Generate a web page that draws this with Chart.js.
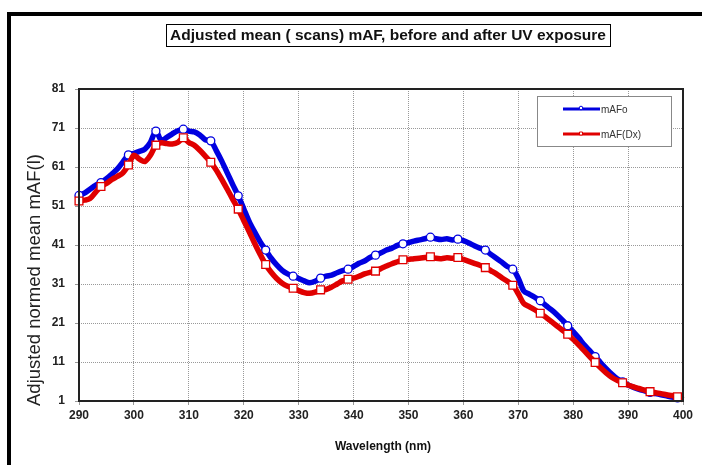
<!DOCTYPE html>
<html>
<head>
<meta charset="utf-8">
<script src="https://cdn.jsdelivr.net/npm/chart.js@4"></script>
<style>
  html, body { margin: 0; padding: 0; background: #fff; }
  canvas { display: block; }
</style>
</head>
<body>
<canvas id="myChart" width="702" height="465"></canvas>
<script>
// wavelengths, 1 nm step
var wavelengths = [290, 291, 292, 293, 294, 295, 296, 297, 298, 299,
  300, 301, 302, 303, 304, 305, 306, 307, 308, 309,
  310, 311, 312, 313, 314, 315, 316, 317, 318, 319,
  320, 321, 322, 323, 324, 325, 326, 327, 328, 329,
  330, 331, 332, 333, 334, 335, 336, 337, 338, 339,
  340, 341, 342, 343, 344, 345, 346, 347, 348, 349,
  350, 351, 352, 353, 354, 355, 356, 357, 358, 359,
  360, 361, 362, 363, 364, 365, 366, 367, 368, 369,
  370, 371, 372, 373, 374, 375, 376, 377, 378, 379,
  380, 381, 382, 383, 384, 385, 386, 387, 388, 389,
  390, 391, 392, 393, 394, 395, 396, 397, 398, 399, 400];

var mAFo = [53.7, 54.3, 55.3, 56.3, 57.0, 58.0, 59.2, 60.5, 62.3, 64.1,
  64.5, 65.0, 65.6, 67.3, 70.2, 67.8, 68.6, 69.5, 70.3, 70.7,
  70.2, 70.0, 69.2, 68.0, 67.7, 65.2, 62.5, 59.5, 56.5, 53.6,
  50.3, 47.0, 44.3, 41.8, 39.7, 37.6, 35.9, 34.5, 33.6, 33.0,
  32.4, 31.8, 31.3, 31.7, 32.5, 33.0, 33.3, 33.9, 34.4, 34.8,
  35.5, 36.3, 36.9, 37.8, 38.4, 39.0, 39.7, 40.2, 40.9, 41.3,
  41.6, 42.0, 42.3, 42.6, 43.0, 42.6, 42.4, 42.6, 42.3, 42.5,
  42.1, 41.5, 40.8, 40.2, 39.7, 38.6, 37.6, 36.6, 35.5, 34.8,
  32.5, 29.2, 28.4, 27.6, 26.7, 25.5, 24.4, 23.2, 21.8, 20.3,
  18.8, 17.2, 15.4, 13.9, 12.4, 10.8, 9.3, 7.9, 6.7, 5.9,
  5.1, 4.5, 4.0, 3.6, 3.2, 2.9, 2.6, 2.3, 2.0, 1.8, 1.6];

var mAFDx = [52.3, 52.5, 52.9, 54.5, 56.0, 56.8, 57.8, 58.6, 59.5, 61.5,
  64.0, 63.0, 62.4, 64.0, 66.6, 67.2, 67.0, 66.9, 67.3, 68.5,
  67.3, 66.6, 65.3, 63.8, 62.2, 60.2, 57.8, 55.3, 52.7, 50.2,
  47.3, 44.4, 41.4, 38.6, 36.0, 34.0, 32.4, 31.2, 30.4, 29.9,
  29.3, 28.8, 28.6, 28.9, 29.5, 29.6, 30.2, 31.0, 31.8, 32.2,
  32.5, 33.0, 33.6, 34.0, 34.3, 35.0, 35.6, 36.2, 36.7, 37.2,
  37.3, 37.5, 37.6, 37.8, 38.0, 37.6, 37.5, 37.7, 37.6, 37.8,
  37.3, 36.8, 36.3, 35.8, 35.2, 34.4, 33.6, 32.6, 31.7, 30.7,
  28.5, 26.0, 25.2, 24.4, 23.5, 22.5, 21.4, 20.3, 19.2, 18.1,
  16.8, 15.4, 13.9, 12.4, 10.9, 9.5, 8.2, 7.1, 6.3, 5.7,
  5.1, 4.6, 4.2, 3.8, 3.4, 3.1, 2.9, 2.6, 2.4, 2.1, 1.3];

// wavelengths carrying a marker
var markerWl = [290, 294, 299, 304, 309, 314, 319, 324, 329, 334, 339, 344,
  349, 354, 359, 364, 369, 374, 379, 384, 389, 394, 399];

var yTicks = [1, 11, 21, 31, 41, 51, 61, 71, 81];

var BLUE = '#0000e0';
var RED = '#e00000';
var FONT = '"Liberation Sans", Arial, sans-serif';

function toPoints(vals) {
  return vals.map(function (v, i) { return { x: wavelengths[i], y: v }; });
}
function markerRadius(r) {
  return function (c) { return markerWl.indexOf(wavelengths[c.dataIndex]) >= 0 ? r : 0; };
}

// titles, frame, legend, plot border
var decor = {
  id: 'decor',
  afterDraw: function (chart) {
    var c = chart.ctx, a = chart.chartArea;
    c.save();
    // outer frame
    c.fillStyle = '#000';
    c.fillRect(7, 12, 702, 4);
    c.fillRect(7, 12, 4, 465);

    // plot border
    c.strokeStyle = '#222';
    c.lineWidth = 2;
    c.strokeRect(a.left, a.top, a.right - a.left, a.bottom - a.top);

    // title box
    c.fillStyle = '#fff';
    c.fillRect(166, 24, 444, 23);
    c.strokeStyle = '#000';
    c.lineWidth = 1;
    c.strokeRect(166.5, 24.5, 444, 22);
    c.fillStyle = '#111';
    c.font = 'bold 15.5px ' + FONT;
    c.textAlign = 'center';
    c.textBaseline = 'middle';
    c.fillText('Adjusted mean ( scans) mAF, before and after UV exposure', 388, 36);

    // x title
    c.font = 'bold 12px ' + FONT;
    c.fillText('Wavelength (nm)', 383, 447);

    // y title
    c.save();
    c.translate(40, 406);
    c.rotate(-Math.PI / 2);
    c.font = '18.5px ' + FONT;
    c.textAlign = 'left';
    c.textBaseline = 'alphabetic';
    c.fillStyle = '#222';
    c.fillText('Adjusted normed mean mAF(l)', 0, 0);
    c.restore();

    // legend
    c.fillStyle = '#fff';
    c.fillRect(537, 96, 135, 51);
    c.strokeStyle = '#888';
    c.strokeRect(537.5, 96.5, 134, 50);
    var rows = [[BLUE, 'mAFo', 109, 'circle'], [RED, 'mAF(Dx)', 134, 'rect']];
    rows.forEach(function (r) {
      c.strokeStyle = r[0];
      c.lineWidth = 3;
      c.beginPath();
      c.moveTo(563, r[2]);
      c.lineTo(600, r[2]);
      c.stroke();
      c.fillStyle = '#fff';
      c.lineWidth = 1;
      c.beginPath();
      if (r[3] === 'circle') c.arc(581, r[2] - 1, 1.8, 0, Math.PI * 2);
      else c.rect(579.5, r[2] - 2, 3, 3);
      c.fill();
      c.stroke();
      c.fillStyle = '#333';
      c.font = '10px ' + FONT;
      c.textAlign = 'left';
      c.textBaseline = 'middle';
      c.fillText(r[1], 601, r[2] + 1);
    });
    c.restore();
  }
};

var ctx = document.getElementById('myChart').getContext('2d');

var myChart = new Chart(ctx, {
  type: 'line',
  data: {
    datasets: [{
      label: 'mAF(Dx)',
      data: toPoints(mAFDx),
      borderColor: RED,
      borderWidth: 5.5,
      backgroundColor: '#fff',
      pointStyle: 'rect',
      pointRadius: markerRadius(5.5),
      pointBorderColor: RED,
      pointBorderWidth: 1.3,
      pointBackgroundColor: '#fff',
      tension: 0.3,
      clip: 8,
      order: 1
    }, {
      label: 'mAFo',
      data: toPoints(mAFo),
      borderColor: BLUE,
      borderWidth: 5.5,
      backgroundColor: '#fff',
      pointStyle: 'circle',
      pointRadius: markerRadius(4),
      pointBorderColor: BLUE,
      pointBorderWidth: 1.3,
      pointBackgroundColor: '#fff',
      tension: 0.3,
      clip: 8,
      order: 2
    }]
  },
  options: {
    responsive: false,
    animation: false,
    events: [],
    layout: { padding: { top: 89, right: 19, bottom: 0, left: 0 } },
    plugins: { legend: { display: false }, title: { display: false }, tooltip: { enabled: false } },
    scales: {
      x: {
        type: 'linear',
        min: 290,
        max: 400,
        afterFit: function (s) { s.height = 64; },
        ticks: {
          stepSize: 10,
          padding: 3,
          color: '#222',
          font: { family: FONT, size: 12, weight: 'bold' }
        },
        grid: { color: '#999', lineWidth: 1, tickLength: 4 },
        border: { display: false, dash: [1, 1] }
      },
      y: {
        min: 1,
        max: 81,
        afterFit: function (s) { s.width = 79; },
        afterBuildTicks: function (s) { s.ticks = yTicks.map(function (v) { return { value: v }; }); },
        ticks: {
          stepSize: 10,
          padding: 10,
          color: '#222',
          font: { family: FONT, size: 12, weight: 'bold' }
        },
        grid: { color: '#999', lineWidth: 1, tickLength: 4 },
        border: { display: false, dash: [1, 1] }
      }
    }
  },
  plugins: [decor]
});
</script>
</body>
</html>
